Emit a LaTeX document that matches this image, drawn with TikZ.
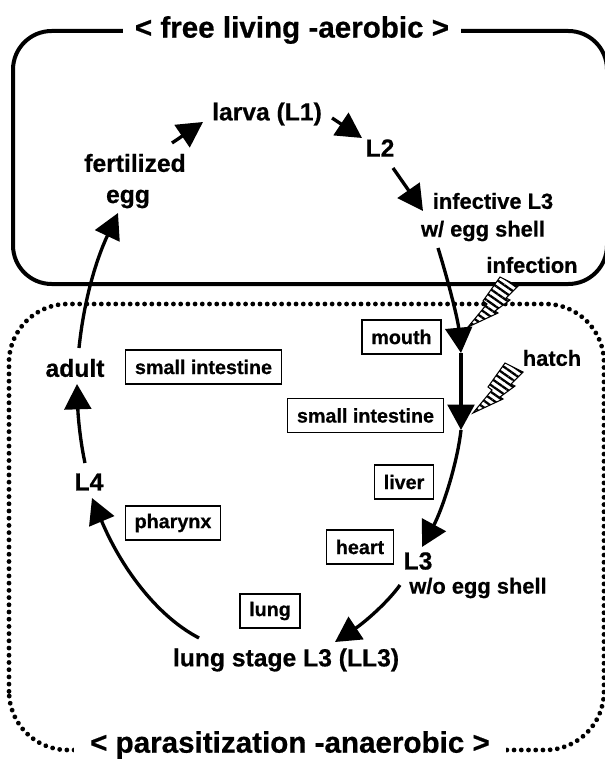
\documentclass[tikz,border=0pt]{standalone}
\usepackage{fontspec}
\setmainfont{Liberation Sans}[BoldFeatures={FakeBold=0.6}]
\usetikzlibrary{arrows.meta,patterns.meta}
\tikzset{
  x=0.75pt,y=-0.75pt,
  lab/.style={font=\bfseries\fontsize{18.5}{20}\selectfont,inner sep=1pt},
  labsm/.style={font=\bfseries\fontsize{16.4}{18}\selectfont,inner sep=1pt},
  ttl/.style={font=\bfseries\fontsize{22.2}{24}\selectfont,fill=white,inner ysep=3pt,inner xsep=9pt},
  boxed/.style={draw,line width=1.1pt,font=\bfseries\fontsize{14.8}{16}\selectfont,minimum height=25.5pt,inner ysep=0pt,inner xsep=7pt},
  flow/.style={line width=2.5pt,-{Triangle[length=19pt,width=20pt]}},
  solidframe/.style={line width=3pt},
  dotframe/.style={line width=3.6pt,line cap=round,dash pattern=on 0.01pt off 5.4pt},
}
\newcommand{\boltshape}[2]{%
  \begin{scope}[shift={(#1,#2)}]
  \path[fill=white] (0,0)--(19,-23)--(15,-26)--(32,-50)--(50,-41)--(38,-29)--(42,-27)--(27,-16)--(30,-14)--cycle;
  \path[pattern={Lines[angle=-35,distance=4.2pt,line width=1.7pt]}] (0,0)--(19,-23)--(15,-26)--(32,-50)--(50,-41)--(38,-29)--(42,-27)--(27,-16)--(30,-14)--cycle;
  \draw[line width=0.8pt] (0,0)--(19,-23)--(15,-26)--(32,-50)--(50,-41)--(38,-29)--(42,-27)--(27,-16)--(30,-14)--cycle;
  \end{scope}}
\begin{document}
\begin{tikzpicture}
\useasboundingbox (0,0) rectangle (604,766);
% frames
\draw[solidframe,rounded corners=29pt] (13,284) rectangle (607,31);
\draw[dotframe,rounded corners=44pt] (9,750) rectangle (604,304);
% titles
\node[ttl] (t1) at (292,30) {< free living -aerobic >};
\node[ttl,inner xsep=12pt] (t2) at (290,745) {< parasitization -anaerobic >};
% labels
\node[lab] (larva) at (267,114) {larva (L1)};
\node[lab] (l2) at (380,148) {L2};
\node[lab] (fert) at (135,163) {fertilized};
\node[lab] (egg) at (128,199) {egg};
\node[labsm] (inf) at (493,201) {infective L3};
\node[labsm] (wegg) at (483,231) {w/ egg shell};
\node[labsm] (infection) at (532,265) {infection};
\node[labsm] (hatch) at (552,358) {hatch};
\node[lab] (adult) at (75,368) {adult};
\node[lab] (l4) at (89,482) {L4};
\node[lab] (l3) at (418,561) {L3};
\node[labsm] (wo) at (478,588) {w/o egg shell};
\node[lab] (ll3) at (286,660) {lung stage L3 (LL3)};
% boxes
\node[boxed] (b1) at (401.5,337) {mouth};
\node[boxed] (b2) at (203.5,367) {small intestine};
\node[boxed] (b3) at (365.5,415.5) {small intestine};
\node[boxed] (b4) at (404,482) {liver};
\node[boxed] (b5) at (360,547) {heart};
\node[boxed] (b6) at (173,523) {pharynx};
\node[boxed] (b7) at (270,611) {lung};
% junctions on the long curve
\coordinate (j1) at (461,353);
\coordinate (j2) at (461,430);
% connectors
\draw[flow] ([shift={(37,-20)}]fert.center) -- ([shift={(-64,8)}]larva.center);
\draw[flow] ([shift={(65,4)}]larva.center) -- ([shift={(-18,-10)}]l2.center);
\draw[flow] ([shift={(13,20)}]l2.center) -- ([shift={(-70,10)}]inf.center);
\draw[flow] ([shift={(-45,17)}]wegg.center) .. controls (448,280) and (458,320) .. (j1);
\draw[flow] (j1) -- (j2);
\draw[flow] (j2) .. controls (457,465) and (442,510) .. ([shift={(4,-14)}]l3.center);
\draw[flow] ([shift={(-78,-3)}]wo.center) .. controls (388,602) and (365,622) .. ([shift={(49,-18)}]ll3.center);
\draw[flow] ([shift={(-87,-22)}]ll3.center) .. controls (155,615) and (120,565) .. ([shift={(3,16)}]l4.center);
\draw[flow] ([shift={(-4,-19)}]l4.center) .. controls (80,440) and (78,415) .. ([shift={(2,16)}]adult.center);
\draw[flow] ([shift={(4,-20)}]adult.center) .. controls (84,300) and (96,260) .. ([shift={(-10,14)}]egg.center);
% bolts
\boltshape{468}{327}
\boltshape{473}{413}
\end{tikzpicture}
\end{document}
